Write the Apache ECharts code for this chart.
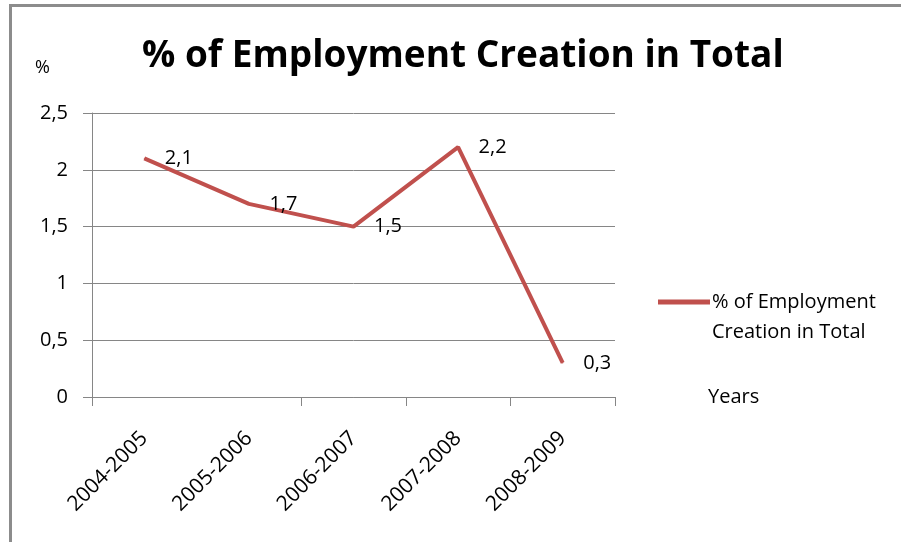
<!DOCTYPE html>
<html>
<head>
<meta charset="utf-8">
<script src="https://cdn.jsdelivr.net/npm/echarts@6/dist/echarts.min.js"></script>
<style>
html,body{margin:0;padding:0;background:#fff;}
#c{width:901px;height:542px;}
</style>
</head>
<body>
<div id="c"></div>
<script>
var categories = ['2004-2005', '2005-2006', '2006-2007', '2007-2008', '2008-2009'];
var values = [2.1, 1.7, 1.5, 2.2, 0.3];
var seriesName = '% of Employment Creation in Total';
var titleText = '% of Employment Creation in Total';

var FONT = 'Open Sans';
var grayLine = '#868686';
var red = '#c0504d';
function comma(v) { return String(v).replace('.', ','); }

var chart = echarts.init(document.getElementById('c'), null, { renderer: 'canvas' });
chart.setOption({
  animation: false,
  backgroundColor: '#fff',
  textStyle: { fontFamily: FONT },
  graphic: [{
    type: 'rect',
    shape: { x: 10.5, y: 5.5, width: 1000, height: 1000 },
    style: { fill: 'none', stroke: '#8c8c8c', lineWidth: 3 },
    silent: true
  }],
  title: {
    text: titleText,
    left: 137,
    top: 33,
    textStyle: { fontFamily: FONT, fontSize: 37, fontWeight: 'bold', color: '#000' }
  },
  legend: {
    show: true,
    left: 653,
    top: 282,
    itemWidth: 52,
    itemHeight: 35,
    itemGap: 0,
    data: [{ name: seriesName, icon: 'path://M0,0L52,0L52,5L0,5Z M0,34.9L0.05,34.9L0.05,35L0,35Z' }],
    formatter: function () { return '% of Employment\nCreation in Total'; },
    textStyle: { fontFamily: FONT, fontSize: 20, color: '#000', lineHeight: 30, padding: [0, 0, 0, -3] }
  },
  grid: { left: 92, right: 286, top: 113, bottom: 145, containLabel: false },
  xAxis: {
    type: 'category',
    data: categories,
    boundaryGap: true,
    name: 'Years',
    nameLocation: 'end',
    nameGap: 93,
    nameTextStyle: { fontFamily: FONT, fontSize: 20, color: '#000' },
    axisLine: { show: true, lineStyle: { color: grayLine, width: 1 } },
    axisTick: { show: true, length: 9, lineStyle: { color: grayLine }, interval: function (i) { return i !== 1; } },
    axisLabel: { rotate: 45, margin: 38, fontFamily: FONT, fontSize: 21, color: '#000' },
    splitLine: { show: false }
  },
  yAxis: {
    type: 'value',
    min: 0,
    max: 2.5,
    interval: 0.5,
    name: '%',
    nameLocation: 'end',
    nameGap: 36,
    nameTextStyle: { fontFamily: FONT, fontSize: 18, color: '#000', align: 'right', padding: [0, 42, 0, 0] },
    axisLine: { show: true, lineStyle: { color: grayLine, width: 1 } },
    axisTick: { show: true, length: 9, lineStyle: { color: grayLine } },
    axisLabel: { margin: 24, fontFamily: FONT, fontSize: 20, color: '#000', formatter: function (v) { return comma(v); } },
    splitLine: { show: true, lineStyle: { color: grayLine, width: 1 } }
  },
  series: [{
    name: seriesName,
    type: 'line',
    data: values,
    symbol: 'circle',
    symbolSize: 1,
    showSymbol: true,
    smooth: false,
    lineStyle: { color: red, width: 4 },
    itemStyle: { color: red },
    label: {
      show: true,
      position: 'right',
      distance: 20,
      fontFamily: FONT,
      fontSize: 20,
      color: '#000',
      formatter: function (p) { return comma(p.value); }
    }
  }]
});
</script>
</body>
</html>
